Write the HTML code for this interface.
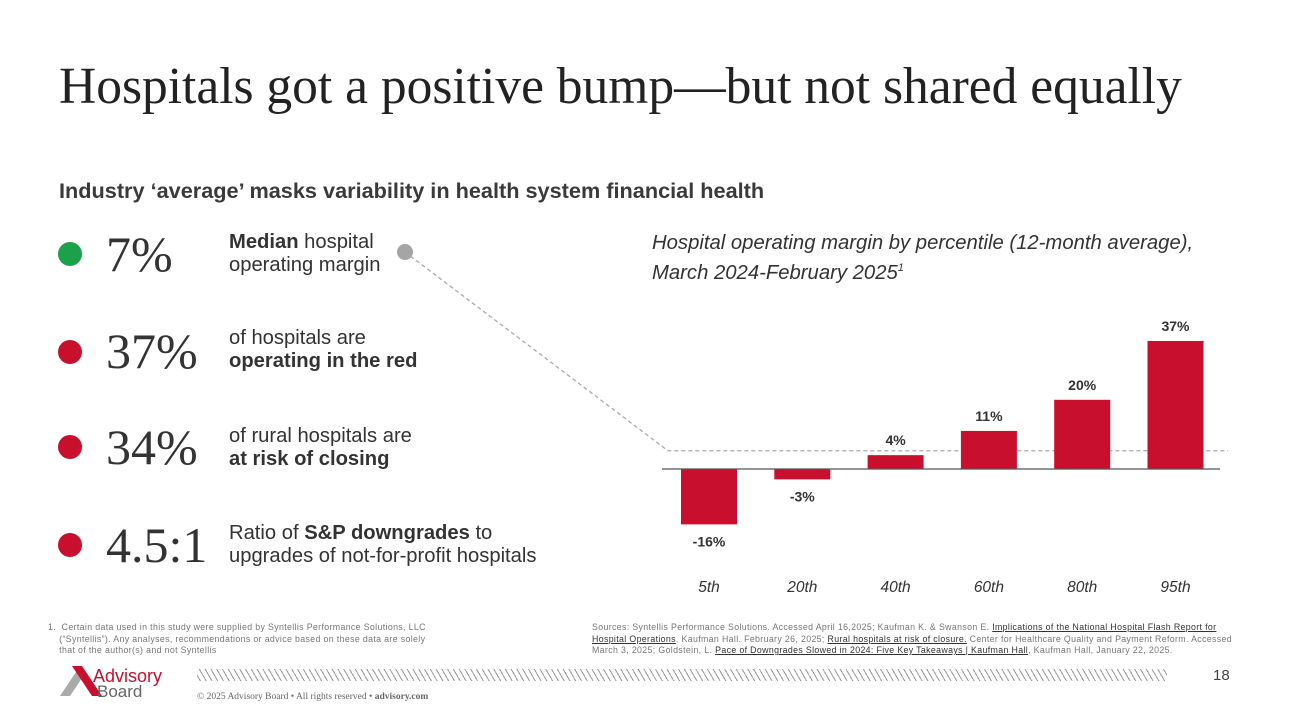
<!DOCTYPE html>
<html><head><meta charset="utf-8"><style>
body{margin:0;width:1292px;height:723px;background:#fff;position:relative;overflow:hidden;font-family:"Liberation Sans",sans-serif;color:#333}
.a{position:absolute}
.title{left:59px;top:57px;font-family:"Liberation Serif",serif;font-size:51.5px;color:#222;white-space:nowrap}
.sub{left:59px;top:178px;font-size:21.7px;font-weight:bold;color:#3a3a3a;white-space:nowrap}
.dot{width:24px;height:24px;border-radius:50%}
.big{font-family:"Liberation Serif",serif;font-size:50px;color:#333;left:106px}
.lab{left:229px;font-size:20.2px;line-height:23px;color:#333;white-space:nowrap}
.ct{left:652px;top:231px;font-size:20.3px;font-style:italic;line-height:25px;color:#333;white-space:nowrap}
.fn{font-size:8.8px;color:#777;line-height:11.5px;letter-spacing:0.35px}
.fn u{color:#333}
.stripes{left:197px;top:669px;width:970px;height:12px;background:repeating-linear-gradient(60deg,#fff 0 2.5px,#999 2.5px 3.5px,#fff 3.5px 5px)}
</style></head><body>
<div class="a title">Hospitals got a positive bump—but not shared equally</div>
<div class="a sub">Industry ‘average’ masks variability in health system financial health</div>

<div class="a dot" style="left:58px;top:242px;background:#1aa14a"></div>
<div class="a big" style="top:225px">7%</div>
<div class="a lab" style="top:231px"><b>Median</b> hospital<br>operating margin</div>

<div class="a dot" style="left:58px;top:340px;background:#c8102e"></div>
<div class="a big" style="top:322px">37%</div>
<div class="a lab" style="top:327px">of hospitals are<br><b>operating in the red</b></div>

<div class="a dot" style="left:58px;top:435px;background:#c8102e"></div>
<div class="a big" style="top:418px">34%</div>
<div class="a lab" style="top:425px">of rural hospitals are<br><b>at risk of closing</b></div>

<div class="a dot" style="left:58px;top:533px;background:#c8102e"></div>
<div class="a big" style="top:516px">4.5:1</div>
<div class="a lab" style="top:522px">Ratio of <b>S&amp;P downgrades</b> to<br>upgrades of not-for-profit hospitals</div>

<div class="a ct">Hospital operating margin by percentile (12-month average),<br>March 2024-February 2025<sup style="font-size:11px">1</sup></div>

<svg class="a" style="left:0;top:0" width="1292" height="723" id="chart"></svg>

<div class="a fn" style="left:48px;top:622px;width:400px">1.&nbsp; Certain data used in this study were supplied by Syntellis Performance Solutions, LLC<br>&nbsp;&nbsp;&nbsp;&nbsp;(“Syntellis”). Any analyses, recommendations or advice based on these data are solely<br>&nbsp;&nbsp;&nbsp;&nbsp;that of the author(s) and not Syntellis</div>
<div class="a fn" style="left:592px;top:622px;width:640px">Sources: Syntellis Performance Solutions. Accessed April 16,2025; Kaufman K. &amp; Swanson E. <u>Implications of the National Hospital Flash Report for</u><br><u>Hospital Operations</u>. Kaufman Hall. February 26, 2025; <u>Rural hospitals at risk of closure.</u> Center for Healthcare Quality and Payment Reform. Accessed<br>March 3, 2025; Goldstein, L. <u>Pace of Downgrades Slowed in 2024: Five Key Takeaways | Kaufman Hall</u>, Kaufman Hall, January 22, 2025.</div>

<svg class="a" style="left:58px;top:664px" width="110" height="36">
<polygon points="2,32 12,32 28,8 18,8" fill="#aaa"/>
<polygon points="14,2 24,2 44,32 34,32" fill="#c8102e"/>
<text x="35" y="18" font-family="Liberation Sans" font-size="18" fill="#c8102e">Advisory</text>
<text x="39" y="33" font-family="Liberation Sans" font-size="17" fill="#666">Board</text>
</svg>
<div class="a stripes"></div>
<div class="a" style="left:197px;top:692px;font-family:'Liberation Serif',serif;font-size:9.5px;color:#666">© 2025 Advisory Board • All rights reserved • <b>advisory.com</b></div>
<div class="a" style="left:1213px;top:667px;font-size:15px;color:#444">18</div>

<script>
const categories=["5th","20th","40th","60th","80th","95th"];
const values=[-16,-3,4,11,20,37];
const labels=["-16%","-3%","4%","11%","20%","37%"];
const median=[7];
const svg=document.getElementById('chart');
const NS="http://www.w3.org/2000/svg";
const y0=469,k=3.46,x0=709,step=93.3,bw=56;
const y=v=>y0-v*k;
const x=i=>x0+i*step;
function mk(t,a){const e=document.createElementNS(NS,t);for(const q in a)e.setAttribute(q,a[q]);svg.appendChild(e);return e;}
let my=y(median[0])+6;
let l=mk('polyline',{points:`405,252 668,${my} 1228,${my}`,fill:'none',stroke:'#aaa','stroke-width':1.3,'stroke-dasharray':'4,3'});


let d=mk('circle',{cx:405,cy:252,r:8,fill:'#a5a5a5'});


values.forEach((v,i)=>{
 let r=mk('rect',{x:x(i)-bw/2,y:Math.min(y(v),y0),width:bw,height:Math.abs(v)*k,fill:'#c8102e'});
 
 
 let t=mk('text',{x:x(i),y:v>=0?y(v)-10:y(v)+22,'text-anchor':'middle','font-family':'Liberation Sans','font-size':14,'font-weight':'bold',fill:'#333'});
 t.textContent=labels[i];
 
 
 let c=mk('text',{x:x(i),y:592,'text-anchor':'middle','font-family':'Liberation Sans','font-size':15.5,'font-style':'italic',fill:'#333'});
 c.textContent=categories[i];
 
 
});
let ax=mk('line',{x1:662,x2:1220,y1:y0,y2:y0,stroke:'#555','stroke-width':1.3});


</script>
</body></html>
